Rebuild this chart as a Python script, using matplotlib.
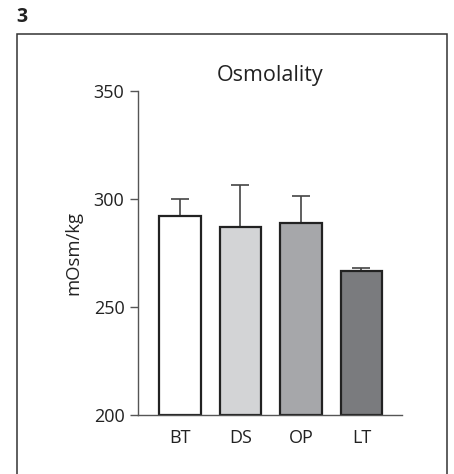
import matplotlib
matplotlib.use("Agg")
import matplotlib.pyplot as plt
from matplotlib.patches import Rectangle

plt.rcParams['font.family'] = ['Open Sans', 'DejaVu Sans']

categories = ["BT", "DS", "OP", "LT"]
means = [292.4, 287.3, 289.0, 266.8]
err_upper = [7.9, 19.3, 12.4, 1.5]
colors = ["#ffffff", "#d3d4d6", "#a6a7aa", "#7a7b7e"]
yticks = [200, 250, 300, 350]

fig = plt.figure(figsize=(4.54, 4.74), dpi=100)
ax = fig.add_axes([138/454, 1-415.3/474, (402-138)/454, (415.3-91.3)/474])

x = list(range(len(categories)))
ax.bar(x, [m - 200 for m in means], bottom=200, width=0.69, color=colors,
       edgecolor="#222222", linewidth=1.6, zorder=2)
ax.errorbar(x, means, yerr=[[0]*len(means), err_upper], fmt="none",
            ecolor="#444444", elinewidth=1.2, capsize=6.8, capthick=1.2, zorder=1)

ax.set_xlim(-0.694, 3.67)
ax.set_ylim(200, 350)
ax.set_yticks(yticks)
ax.set_xticks(x)
ax.set_xticklabels(categories)
ax.tick_params(axis="x", length=0, pad=10, labelsize=13, colors="#222222")
ax.tick_params(axis="y", length=5.8, width=1.0, pad=4, labelsize=13, color="#555555", labelcolor="#222222")
for s in ["top", "right"]:
    ax.spines[s].set_visible(False)
for s in ["left", "bottom"]:
    ax.spines[s].set_color("#555555")
    ax.spines[s].set_linewidth(1.0)
ax.set_ylabel("mOsm/kg", fontsize=13.3, color="#222222", labelpad=8)

fig.text(270/454, 1-76/474, "Osmolality", ha="center", va="center", fontsize=15.5, color="#222222")
fig.text(16/454, 1-17/474, "3", ha="left", va="center", fontsize=14, fontweight="bold", color="#222222")

frame = Rectangle((17/454, -0.02), (447-17)/454, 1-34/474+0.02, transform=fig.transFigure,
                  fill=False, edgecolor="#333333", linewidth=1.1)
fig.add_artist(frame)

fig.savefig("out.png", dpi=100)
